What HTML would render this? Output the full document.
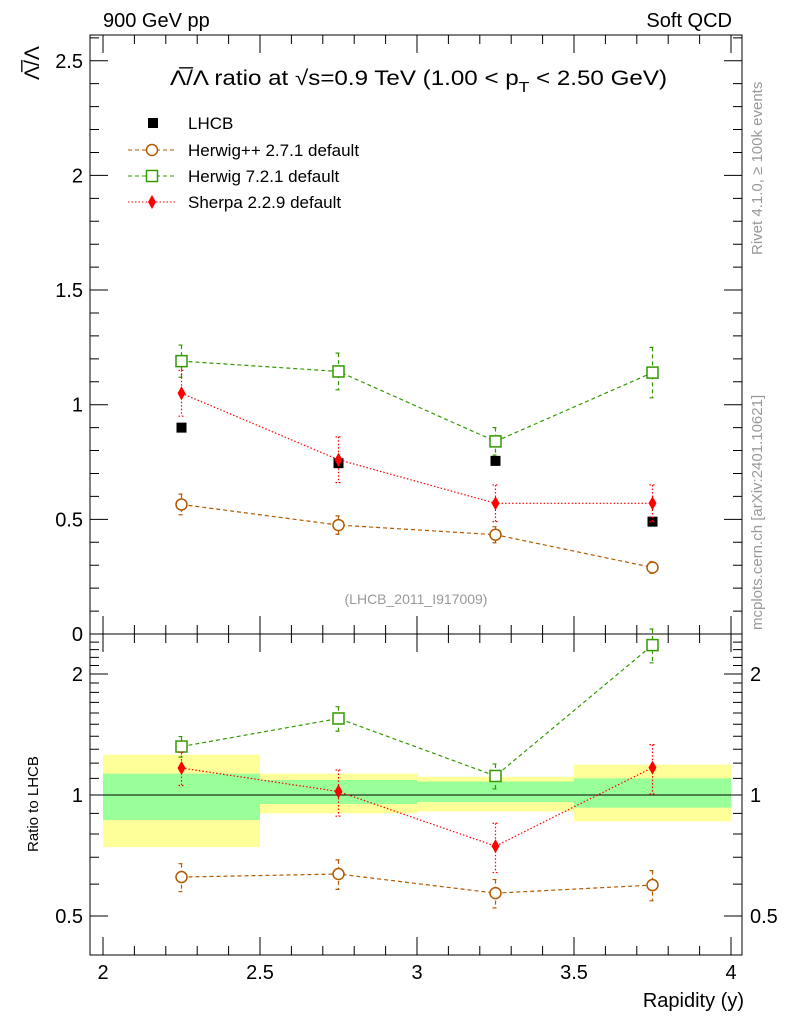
<!DOCTYPE html>
<html><head><meta charset="utf-8"><style>
body{margin:0;background:#fff}
svg{display:block;font-family:"Liberation Sans",sans-serif}
</style></head><body>
<svg id="chart" width="786" height="1024" viewBox="0 0 786 1024" xmlns="http://www.w3.org/2000/svg">
<g id="bands"></g>
<g id="marks"></g>
<g id="axes"></g>
<text x="103" y="27" font-size="20">900 GeV pp</text>
<text x="732" y="27" font-size="20" text-anchor="end">Soft QCD</text>
<text x="170" y="85" font-size="21" textLength="497" lengthAdjust="spacingAndGlyphs">Λ̅/Λ ratio at √s=0.9 TeV (1.00 &lt; p<tspan font-size="15" dy="7">T</tspan><tspan dy="-7"> &lt; 2.50 GeV)</tspan></text>
<text transform="translate(39,80) rotate(-90)" font-size="21">Λ̅/Λ</text>
<text transform="translate(38,852) rotate(-90)" font-size="15">Ratio to LHCB</text>
<text x="744" y="1007" font-size="20" text-anchor="end">Rapidity (y)</text>
<text x="416" y="604" font-size="14" fill="#999" text-anchor="middle">(LHCB_2011_I917009)</text>
<text transform="translate(762,255) rotate(-90)" font-size="15" fill="#999">Rivet 4.1.0, ≥ 100k events</text>
<text transform="translate(762,630) rotate(-90)" font-size="15" fill="#999">mcplots.cern.ch [arXiv:2401.10621]</text>
<g font-size="17">
<rect x="148" y="118" width="10" height="10" fill="#000"/>
<text x="188" y="129">LHCB</text>
<line x1="128" y1="150" x2="176" y2="150" stroke="#b35900" stroke-dasharray="4,3"/>
<circle cx="152" cy="150" r="5.5" fill="#fff" stroke="#b35900" stroke-width="1.5"/>
<text x="188" y="156">Herwig++ 2.7.1 default</text>
<line x1="128" y1="176" x2="176" y2="176" stroke="#339900" stroke-dasharray="4,3"/>
<rect x="146.5" y="170.5" width="11" height="11" fill="#fff" stroke="#339900" stroke-width="1.5"/>
<text x="188" y="182">Herwig 7.2.1 default</text>
<line x1="128" y1="202" x2="176" y2="202" stroke="red" stroke-dasharray="1.5,2"/>
<path d="M152 195 L156 202 L152 209 L148 202Z" fill="red"/>
<text x="188" y="208">Sherpa 2.2.9 default</text>
</g>
</svg>
<script>
const xCats=[2.25,2.75,3.25,3.75];
const lhcb=[0.90,0.745,0.755,0.49];
const hpp=[0.565,0.475,0.433,0.29];
const hppErr=[0.045,0.04,0.035,0.025];
const h7=[1.19,1.145,0.84,1.14];
const h7Err=[0.07,0.08,0.06,0.11];
const sh=[1.05,0.76,0.57,0.57];
const shErr=[0.1,0.1,0.08,0.08];
const rHpp=[0.625,0.636,0.57,0.597];
const rH7=[1.32,1.55,1.115,2.36];
const rSh=[1.167,1.02,0.746,1.17];
const binEdges=[2,2.5,3,3.5,4];
const bandYelLo=[0.742,0.90,0.91,0.86];
const bandYelHi=[1.26,1.13,1.11,1.19];
const bandGrnLo=[0.866,0.95,0.96,0.93];
const bandGrnHi=[1.13,1.09,1.08,1.10];
const mainTicks=[0.5,1,1.5,2,2.5];
const ratioTicks=[0.5,1,2];
const xTicks=[2,2.5,3,3.5,4];

const NS="http://www.w3.org/2000/svg";
const L=90,R=742,T=35,MB=634,B=955;
const X=v=>103+(v-2)*314;
const Y=v=>634-v*229.3;
const RY=v=>795-402*Math.log10(v);
function el(parent,tag,attrs){const e=document.createElementNS(NS,tag);for(const k in attrs)e.setAttribute(k,attrs[k]);document.getElementById(parent).appendChild(e);return e;}

for(let i=0;i<4;i++){
 let e=el('bands','rect',{x:X(binEdges[i]),width:X(binEdges[i+1])-X(binEdges[i]),y:RY(bandYelHi[i]),height:RY(bandYelLo[i])-RY(bandYelHi[i]),fill:'#ffff99'});
 
 
 e=el('bands','rect',{x:X(binEdges[i]),width:X(binEdges[i+1])-X(binEdges[i]),y:RY(bandGrnHi[i]),height:RY(bandGrnLo[i])-RY(bandGrnHi[i]),fill:'#99ff99'});
 
 
}
let ul=el('bands','line',{x1:L,x2:R,y1:RY(1),y2:RY(1),stroke:'#000'});



function series(name,vals,errs,yf,color,dash,marker){
 const pts=vals.map((v,i)=>X(xCats[i])+','+yf(v)).join(' ');
 const pl=el('marks','polyline',{points:pts,fill:'none',stroke:color,'stroke-width':1.2,'stroke-dasharray':dash});
 
 
 vals.forEach((v,i)=>{
  const x=X(xCats[i]),y=yf(v);
  if(errs){const lo=yf(v-errs[i]),hi=yf(v+errs[i]);
   const eb=el('marks','path',{d:`M${x} ${hi}V${lo}M${x-3} ${hi}H${x+3}M${x-3} ${lo}H${x+3}`,stroke:color,'stroke-width':1.2,'stroke-dasharray':dash,fill:'none'});
   
   }
  let m;
  if(marker==='c')m=el('marks','circle',{cx:x,cy:y,r:5.5,fill:'#fff',stroke:color,'stroke-width':1.5});
  else if(marker==='s')m=el('marks','rect',{x:x-5.5,y:y-5.5,width:11,height:11,fill:'#fff',stroke:color,'stroke-width':1.5});
  else m=el('marks','path',{d:`M${x} ${y-7}L${x+4} ${y}L${x} ${y+7}L${x-4} ${y}Z`,fill:color});
  
  
 });
}
lhcb.forEach((v,i)=>{const r=el('marks','rect',{x:X(xCats[i])-5,y:Y(v)-5,width:10,height:10,fill:'#000'});
 
 });
series('herwigpp',hpp,hppErr,Y,'#b35900','4,3','c');
series('herwig7',h7,h7Err,Y,'#339900','4,3','s');
series('sherpa',sh,shErr,Y,'red','1.5,2','d');
const rel=(a,b)=>a.map((v,i)=>v*b[i]);
series('ratio-herwigpp',rHpp,rel(rHpp,hppErr.map((e,i)=>e/hpp[i])),RY,'#b35900','4,3','c');
series('ratio-herwig7',rH7,rel(rH7,h7Err.map((e,i)=>e/h7[i])),RY,'#339900','4,3','s');
series('ratio-sherpa',rSh,rel(rSh,shErr.map((e,i)=>e/sh[i])),RY,'red','1.5,2','d');

let f=el('axes','rect',{x:L,y:T,width:R-L,height:MB-T,fill:'none',stroke:'#000','stroke-width':1});


f=el('axes','rect',{x:L,y:MB,width:R-L,height:B-MB,fill:'none',stroke:'#000','stroke-width':1});


let d='';
for(let k=0;k<=26;k++){const y=Y(k/10);if(y<T)break;const len=k%5===0?18:9;d+=`M${L} ${y}H${L+len}M${R} ${y}H${R-len}`;}
for(let k=2;k<=24;k++){const v=k/10;const y=RY(v);if(y<MB||y>B)continue;const len=(v===0.5||v===1||v===2)?18:9;d+=`M${L} ${y}H${L+len}M${R} ${y}H${R-len}`;}
for(let k=0;k<=20;k++){const x=X(2+k/10);const len=k%5===0?18:9;d+=`M${x} ${MB}V${MB-len}M${x} ${T}V${T+len}M${x} ${B}V${B-len}M${x} ${MB}V${MB+len}`;}
let tk=el('axes','path',{d,stroke:'#000','stroke-width':1,fill:'none'});


[0].concat(mainTicks).forEach(v=>{const t=el('axes','text',{x:83,y:Y(v)+7,'font-size':20,'text-anchor':'end'});t.textContent=v===0?'0':String(v);
 
 });
ratioTicks.forEach(v=>{
 let t=el('axes','text',{x:83,y:RY(v)+7,'font-size':20,'text-anchor':'end'});t.textContent=String(v);
 
 
 t=el('axes','text',{x:750,y:RY(v)+7,'font-size':20});t.textContent=String(v);
 
 });
xTicks.forEach(v=>{const t=el('axes','text',{x:X(v),y:979,'font-size':20,'text-anchor':'middle'});t.textContent=String(v);
 
 });
</script>
</body></html>
